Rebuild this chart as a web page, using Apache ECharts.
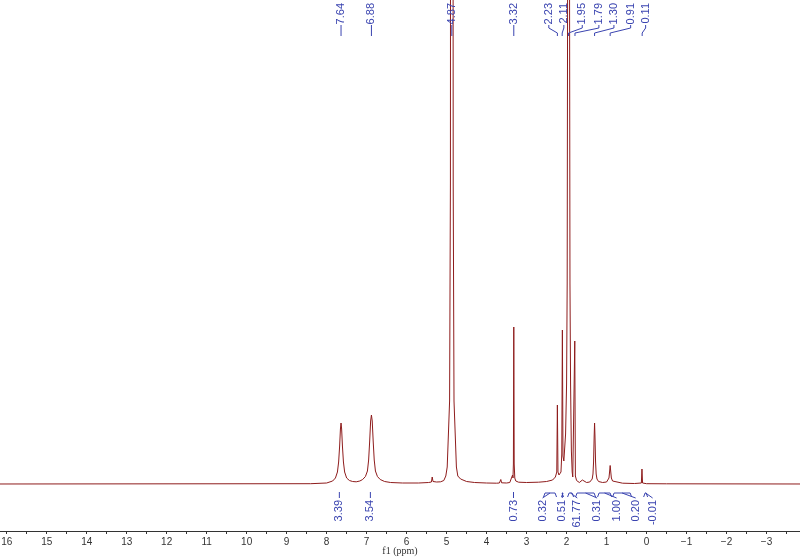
<!DOCTYPE html>
<html>
<head>
<meta charset="utf-8">
<script src="https://cdn.jsdelivr.net/npm/echarts@6/dist/echarts.min.js"></script>
<style>
  html, body { margin: 0; padding: 0; background: #fff; }
  #chart { width: 800px; height: 558px; }
</style>
</head>
<body>
<div id="chart"></div>
<script>
// spectrum: [ppm, intensity] (arbitrary units, baseline 0)
var spectrum = [
  [16.2, 0], [8.4, 0.3], [8.0, 1],
  [7.95, 1.5], [7.85, 3], [7.78, 6], [7.73, 12], [7.70, 22], [7.675, 38], [7.655, 55], [7.64, 61],
  [7.625, 55], [7.605, 38], [7.58, 22], [7.55, 12], [7.50, 6], [7.43, 3.5], [7.35, 2.5], [7.26, 2.2],
  [7.17, 3], [7.1, 4.5], [7.03, 7.5], [6.98, 13], [6.95, 24], [6.925, 42], [6.9, 63], [6.88, 69],
  [6.86, 63], [6.835, 42], [6.81, 24], [6.78, 13], [6.73, 7.5], [6.66, 4.5], [6.55, 2.5], [6.4, 1.5],
  [6.1, 1], [5.7, 1], [5.45, 1.5], [5.38, 2], [5.36, 7], [5.34, 2.5], [5.25, 2], [5.15, 2.2],
  [5.07, 3.5], [5.02, 8], [4.985, 17], [4.955, 50], [4.925, 83], [4.905, 300], [4.89, 1500], [4.87, 6000],
  [4.85, 1500], [4.835, 300], [4.815, 83], [4.785, 50], [4.755, 17], [4.72, 8], [4.65, 5], [4.5, 2.5],
  [4.3, 1.5], [4.0, 1], [3.75, 0.8], [3.68, 1], [3.645, 4.5], [3.625, 1.2], [3.5, 1],
  [3.42, 1.5], [3.37, 3], [3.35, 9], [3.34, 6], [3.33, 20], [3.32, 157], [3.31, 20], [3.295, 6],
  [3.27, 3], [3.2, 1.8], [3.0, 1.5], [2.7, 1.8], [2.5, 2.5], [2.35, 4], [2.28, 7],
  [2.245, 12], [2.23, 79], [2.215, 12], [2.19, 9], [2.17, 8.5], [2.14, 12],
  [2.12, 30], [2.105, 154], [2.09, 28], [2.068, 23], [2.025, 50], [2.0, 100], [1.985, 200], [1.975, 484],
  [1.95, 5000], [1.925, 484], [1.915, 200], [1.9, 100], [1.88, 33], [1.86, 12], [1.845, 7],
  [1.81, 8], [1.795, 143], [1.78, 8], [1.75, 3.5], [1.68, 1.5], [1.63, 2.5], [1.605, 4], [1.58, 2.5],
  [1.5, 1.5], [1.42, 2], [1.40, 2.5], [1.36, 5], [1.34, 10], [1.325, 22], [1.31, 48], [1.30, 61],
  [1.29, 48], [1.275, 22], [1.26, 10], [1.24, 5], [1.2, 2.5], [1.1, 1.5], [1.0, 2],
  [0.97, 3], [0.94, 6], [0.925, 12], [0.91, 18.5], [0.895, 12], [0.88, 6], [0.85, 3], [0.8, 1.5],
  [0.6, 0.8], [0.3, 0.5], [0.13, 1], [0.115, 15], [0.1, 1], [0.0, 0.3], [-0.5, 0.2], [-3.9, 0]
];

// peak picking labels (top)
var peakPpm = [7.64, 6.88, 4.87, 3.32, 2.23, 2.11, 1.95, 1.79, 1.30, 0.91, 0.11];
var peakText = ['7.64', '6.88', '4.87', '3.32', '2.23', '2.11', '1.95', '1.79', '1.30', '0.91', '0.11'];
var peakLabelAt = [7.64, 6.88, 4.87, 3.32, 2.444, 2.068, 1.608, 1.192, 0.816, 0.398, 0.023];

// integrals (bottom)
var integralText = ['3.39', '3.54', '0.73', '0.32', '0.51', '61.77', '0.31', '1.00', '0.20', '-0.01'];
var integralFrom = [null, null, null, 2.576, 2.126, 1.975, 1.775, 1.225, 0.849, 0.073];
var integralTo = [null, null, null, 2.251, 2.076, 1.825, 1.275, 0.874, 0.373, -0.027];
var integralLabelAt = [7.682, 6.906, 3.327, 2.601, 2.108, 1.733, 1.237, 0.749, 0.273, -0.152];

// axis ticks
var xTicks = [16, 15, 14, 13, 12, 11, 10, 9, 8, 7, 6, 5, 4, 3, 2, 1, 0, -1, -2, -3];
var xMinorTicks = [15.5, 14.5, 13.5, 12.5, 11.5, 10.5, 9.5, 8.5, 7.5, 6.5, 5.5, 4.5, 3.5, 2.5, 1.5, 0.5, -0.5, -1.5, -2.5, -3.5];

var blue = '#3a44b0';
var labelFont = "'Liberation Sans Narrow', 'Liberation Sans', sans-serif";

function renderPeakLabel(params, api) {
  var i = params.dataIndex;
  var xp = api.coord([peakPpm[i], 0])[0];
  var xl = api.coord([peakLabelAt[i], 0])[0];
  var pts = [[xl, 25], [xl, 28], [xp, 33], [xp, 36]];
  return {
    type: 'group',
    children: [
      { type: 'text', x: xl, y: 3, rotation: Math.PI / 2,
        style: { text: peakText[i], align: 'right', verticalAlign: 'middle',
                 fill: blue, fontSize: 11, fontFamily: labelFont } },
      { type: 'polyline', shape: { points: pts },
        style: { stroke: blue, fill: null, lineWidth: 1 } }
    ]
  };
}

function renderIntegral(params, api) {
  var i = params.dataIndex;
  var xl = api.coord([integralLabelAt[i], 0])[0];
  var kids = [
    { type: 'text', x: xl, y: 500, rotation: Math.PI / 2,
      style: { text: integralText[i], align: 'right', verticalAlign: 'middle',
               fill: blue, fontSize: 11, fontFamily: labelFont } }
  ];
  if (integralFrom[i] === null) {
    kids.push({ type: 'line', shape: { x1: xl, y1: 492, x2: xl, y2: 498 },
                style: { stroke: blue, lineWidth: 1 } });
  } else {
    var x1 = api.coord([integralFrom[i], 0])[0];
    var x2 = api.coord([integralTo[i], 0])[0];
    var xc = (x1 + x2) / 2;
    kids.push({ type: 'polyline',
                shape: { points: [[x1, 497], [x1 + 1.5, 493], [x2 - 1.5, 493], [x2, 497]] },
                style: { stroke: blue, fill: null, lineWidth: 1 } });
    kids.push({ type: 'line', shape: { x1: xc, y1: 493, x2: xl, y2: 498 },
                style: { stroke: blue, lineWidth: 1 } });
  }
  return { type: 'group', children: kids };
}

var chart = echarts.init(document.getElementById('chart'));

var option = {
  animation: false,
  backgroundColor: '#fff',
  grid: { left: 0, right: 0, top: 0, bottom: 27, containLabel: false, outerBoundsMode: 'none' },
  xAxis: {
    type: 'value',
    inverse: true,
    min: -3.837,
    max: 16.168,
    splitLine: { show: false },
    axisLine: { onZero: false, lineStyle: { color: '#333', width: 1 } },
    axisTick: {
      customValues: xTicks.concat(xMinorTicks),
      length: 3,
      lineStyle: { color: '#333' }
    },
    axisLabel: {
      customValues: xTicks,
      margin: 6,
      fontSize: 10,
      color: '#333',
      fontFamily: "'Liberation Sans', sans-serif",
      formatter: function (v) { return v < 0 ? '\u2212' + (-v) : String(v); }
    },
    name: 'f1 (ppm)',
    nameLocation: 'middle',
    nameGap: 15,
    nameMoveOverlap: false,
    nameTextStyle: { fontSize: 10, color: '#333', fontFamily: "'Liberation Serif', serif" }
  },
  yAxis: {
    type: 'value',
    min: -47,
    max: 484,
    show: false
  },
  series: [
    {
      type: 'line',
      data: spectrum,
      showSymbol: false,
      clip: true,
      lineStyle: { color: '#8e1c1c', width: 1 },
      itemStyle: { color: '#8e1c1c' },
      z: 2
    },
    {
      type: 'custom',
      data: peakPpm.map(function (p, i) { return [p, peakLabelAt[i]]; }),
      encode: { x: [0, 1] },
      renderItem: renderPeakLabel,
      z: 3
    },
    {
      type: 'custom',
      data: integralLabelAt.map(function (p, i) { return [p, i]; }),
      encode: { x: 0 },
      renderItem: renderIntegral,
      z: 3
    }
  ]
};

chart.setOption(option);
window.addEventListener('resize', function () { chart.resize(); });
</script>
</body>
</html>
